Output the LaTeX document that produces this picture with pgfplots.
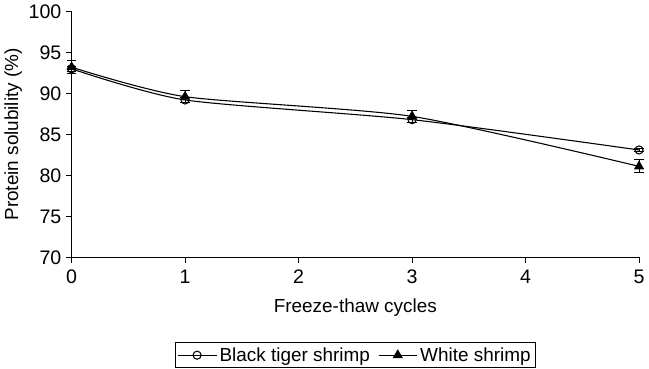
\documentclass[border=0pt]{standalone}
\usepackage{fontspec}
\setmainfont{Liberation Sans}
\usepackage{pgfplots}
\pgfplotsset{compat=1.18}
\begin{document}
\begin{tikzpicture}
\begin{axis}[
  width=420pt, height=182pt, scale only axis,
  xmin=0, xmax=5, ymin=70, ymax=100,
  xtick={0,1,2,3,4,5}, ytick={70,75,80,85,90,95,100},
  axis x line*=bottom, axis y line*=left,
  axis line style={-, line width=0.8pt},
  tick align=outside, tick style={black, line width=0.6pt}, major tick length=4pt,
  /pgf/number format/assume math mode=true,
  tick label style={font=\fontsize{14.5}{17}\selectfont},
  x tick label style={yshift=-2pt},
  label style={font=\fontsize{14}{16}\selectfont},
  xlabel={Freeze-thaw cycles},
  xlabel style={yshift=-4pt},
  ylabel={Protein solubility (\%)},
  ylabel style={yshift=-2pt},
  legend columns=2,
  legend style={at={(0.5,-0.345)}, anchor=north, draw=black, line width=0.6pt,
    font=\fontsize{14}{16}\selectfont, /tikz/every even column/.append style={column sep=4pt},
    inner sep=1.5pt},
  legend cell align=left,
  legend image code/.code={\draw[mark repeat=2,mark phase=2] plot coordinates {(0cm,0cm) (0.5cm,0cm) (1cm,0cm)};},
  clip=false,
]
\addplot+[black, line width=0.8pt, smooth, tension=0.4, mark=o, mark size=3pt, mark options={fill=white, line width=0.8pt},
  error bars/.cd, y dir=both, y explicit, error mark options={rotate=90, mark size=3.5pt, line width=0.8pt}]
  coordinates {(0,93.0) +- (0,0.3) (1,89.2) +- (0,0.3) (3,86.8) +- (0,0.3) (5,83.1) +- (0,0.2)};
\addlegendentry{Black tiger shrimp}
\addplot+[black, line width=0.8pt, smooth, tension=0.4, mark=triangle*, mark size=3.6pt, mark options={fill=black},
  error bars/.cd, y dir=both, y explicit, error mark options={rotate=90, mark size=3.5pt, line width=0.8pt}]
  coordinates {(0,93.2) +- (0,0.8) (1,89.6) +- (0,0.7) (3,87.2) +- (0,0.7) (5,81.1) +- (0,0.8)};
\addlegendentry{White shrimp}
\end{axis}
\end{tikzpicture}
\end{document}
